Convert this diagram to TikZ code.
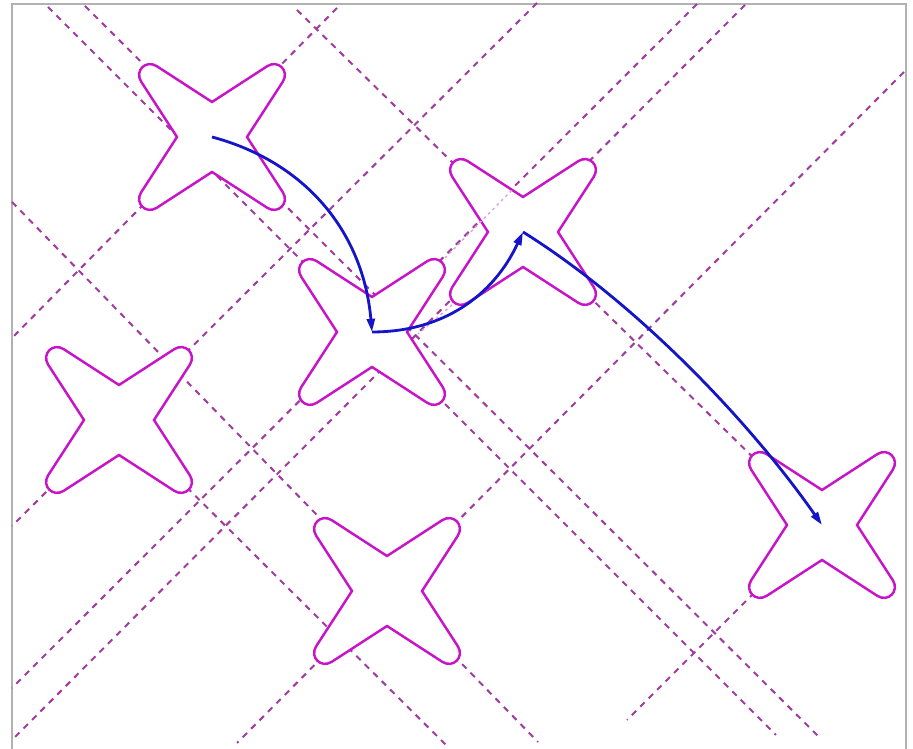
\documentclass[tikz,border=0pt]{standalone}
\usepackage{tikz}
\usetikzlibrary{arrows.meta}
\definecolor{starmag}{RGB}{200,20,200}
\definecolor{guidemag}{RGB}{160,60,160}
\definecolor{faintmag}{RGB}{215,165,215}
\definecolor{arrblue}{RGB}{20,20,200}

\begin{document}
\begin{tikzpicture}[
					x=0.02cm,y=0.02cm,
					star/.style={draw=starmag,line width=1.4pt,fill=white},
					guide/.style={draw=guidemag,line width=1.15pt,dash pattern=on 3.5pt off 3.3pt},
					faint/.style={draw=faintmag,line width=0.8pt,dash pattern=on 1.5pt off 2pt},
					move/.style={draw=arrblue,line width=1.6pt,-{Triangle[length=7.5pt,width=4.5pt]}},
					petal/.pic={
						\path[star] (0:35) \foreach \a in {45,135,225,315}{
							-- (\a-7:90) .. controls (\a-4.5:102) and (\a+4.5:102) .. (\a+7:90) -- (\a+45:35)} -- cycle;
					}
					]
					\useasboundingbox (0,0) rectangle (913,749);
					\draw[gray!60,line width=1pt] (12,0) -- (12,745) -- (906,745) -- (906,0);
					\foreach \n/\x/\y in {1/212/612,2/372/417,3/523/517,4/119/329,5/387/158,6/822/224}
						\coordinate (s\n) at (\x,\y);
					\draw[guide] (297,739) -- (s6) (85,743) -- (820,11) (48,742) -- (776,14)
						(12,547) -- (538,7) (s4) -- (447,3);
					\draw[guide] (337,741) -- (12,411) (537,746) -- (12,223) (697,745) -- (12,61)
						(745,744) -- (14,11) (904,677) -- (237,6) (s6) -- (627,29);
					\foreach \n in {1,...,6}
						\pic at (s\n) {petal};
					\draw[faint] (445,491) -- (512,559) (452,444) -- (418,415);
					\draw[move] (s1) to[out=-15,in=95] (s2);
					\draw[move] (s2) to[out=0,in=-115] (s3);
					\draw[move] (s3) to[out=-32,in=125,looseness=0.8] (s6);
				\end{tikzpicture}
\end{document}
